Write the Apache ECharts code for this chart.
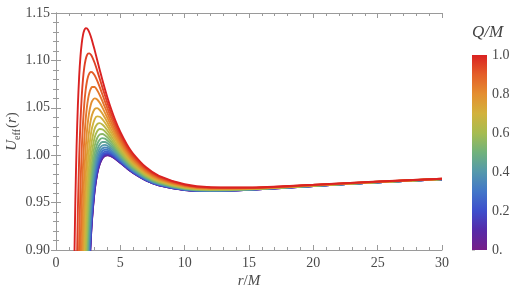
<!DOCTYPE html>
<html>
<head>
<meta charset="utf-8">
<script src="https://cdn.jsdelivr.net/npm/echarts@6/dist/echarts.min.js"></script>
<style>
html,body{margin:0;padding:0;background:#fff;}
#chart{width:523px;height:296px;}
</style>
</head>
<body>
<div id="chart"></div>
<script>
// radial positions r/M shared by all curves
const rGrid = [1.4,1.5,1.6,1.7,1.8,1.9,2.0,2.1,2.2,2.3,2.4,2.5,2.6,2.7,2.8,3.0,3.2,3.4,3.6,3.8,4.0,4.3,4.6,5.0,5.5,6,7,8,10,12,15,20,25,30];
// charge values Q/M of the curves
const qValues = [0,0.05,0.1,0.15,0.2,0.25,0.3,0.35,0.4,0.45,0.5,0.55,0.6,0.65,0.7,0.75,0.8,0.85,0.9,0.95,1.0];
// U_eff(r) read for each Q/M (null = not drawn)
const u000 = [null,null,null,null,null,null,null,null,null,null,null,null,0.88146,0.91010,0.93210,0.96225,0.98028,0.99080,0.99656,0.99927,1.00000,0.99887,0.99630,0.99197,0.98638,0.98131,0.97341,0.96825,0.96333,0.96225,0.96348,0.96747,0.97137,0.97464];
const u005 = [null,null,null,null,null,null,null,null,null,null,null,null,0.88217,0.91070,0.93262,0.96265,0.98059,0.99106,0.99678,0.99945,1.00016,0.99899,0.99640,0.99205,0.98645,0.98136,0.97344,0.96827,0.96334,0.96226,0.96349,0.96748,0.97137,0.97464];
const u010 = [null,null,null,null,null,null,null,null,null,null,null,null,0.88428,0.91250,0.93417,0.96385,0.98155,0.99184,0.99743,1.00000,1.00062,0.99937,0.99671,0.99230,0.98664,0.98151,0.97355,0.96835,0.96339,0.96229,0.96351,0.96748,0.97138,0.97465];
const u015 = [null,null,null,null,null,null,null,null,null,null,null,null,0.88779,0.91550,0.93676,0.96585,0.98314,0.99314,0.99851,1.00091,1.00141,1.00000,0.99723,0.99271,0.98696,0.98177,0.97372,0.96847,0.96346,0.96234,0.96354,0.96750,0.97139,0.97465];
const u020 = [null,null,null,null,null,null,null,null,null,null,null,null,0.89269,0.91968,0.94038,0.96865,0.98537,0.99495,1.00002,1.00219,1.00250,1.00089,0.99796,0.99329,0.98741,0.98212,0.97396,0.96865,0.96357,0.96241,0.96358,0.96753,0.97140,0.97466];
const u025 = [null,null,null,null,null,null,null,null,null,null,null,null,0.89894,0.92502,0.94501,0.97222,0.98822,0.99728,1.00196,1.00382,1.00390,1.00202,0.99889,0.99403,0.98798,0.98258,0.97428,0.96888,0.96370,0.96250,0.96364,0.96756,0.97142,0.97468];
const u030 = [null,null,null,null,null,null,null,null,null,null,null,0.87365,0.90653,0.93152,0.95064,0.97658,0.99170,1.00012,1.00432,1.00582,1.00561,1.00340,1.00004,0.99494,0.98869,0.98315,0.97466,0.96915,0.96387,0.96261,0.96370,0.96759,0.97144,0.97469];
const u035 = [null,null,null,null,null,null,null,null,null,null,null,0.88418,0.91541,0.93913,0.95724,0.98170,0.99579,1.00346,1.00710,1.00818,1.00763,1.00504,1.00138,0.99601,0.98952,0.98381,0.97511,0.96948,0.96407,0.96274,0.96378,0.96764,0.97147,0.97471];
const u040 = [null,null,null,null,null,null,null,null,null,null,null,0.89618,0.92556,0.94784,0.96481,0.98758,1.00049,1.00731,1.01031,1.01089,1.00995,1.00692,1.00294,0.99725,0.99047,0.98457,0.97563,0.96986,0.96429,0.96289,0.96388,0.96769,0.97150,0.97473];
const u045 = [null,null,null,null,null,null,null,null,null,null,0.87318,0.90959,0.93692,0.95761,0.97332,0.99420,1.00579,1.01165,1.01393,1.01395,1.01257,1.00904,1.00469,0.99864,0.99156,0.98544,0.97622,0.97029,0.96455,0.96306,0.96398,0.96774,0.97154,0.97476];
const u050 = [null,null,null,null,null,null,null,null,null,null,0.89084,0.92434,0.94946,0.96842,0.98273,1.00154,1.01168,1.01648,1.01796,1.01737,1.01550,1.01142,1.00665,1.00020,0.99277,0.98640,0.97688,0.97076,0.96483,0.96325,0.96410,0.96781,0.97158,0.97479];
const u055 = [null,null,null,null,null,null,null,null,null,0.86896,0.90996,0.94037,0.96314,0.98023,0.99304,1.00960,1.01815,1.02180,1.02240,1.02113,1.01873,1.01403,1.00881,1.00192,0.99410,0.98747,0.97761,0.97129,0.96515,0.96346,0.96423,0.96788,0.97162,0.97482];
const u060 = [null,null,null,null,null,null,null,null,null,0.89377,0.93045,0.95763,0.97789,0.99300,1.00421,1.01835,1.02520,1.02758,1.02723,1.02523,1.02225,1.01689,1.01118,1.00380,0.99556,0.98864,0.97840,0.97187,0.96549,0.96369,0.96437,0.96795,0.97167,0.97485];
const u065 = [null,null,null,null,null,null,null,null,0.87596,0.91999,0.95222,0.97604,0.99368,1.00669,1.01620,1.02778,1.03280,1.03384,1.03246,1.02967,1.02606,1.01998,1.01374,1.00584,0.99715,0.98991,0.97927,0.97250,0.96587,0.96394,0.96453,0.96804,0.97172,0.97489];
const u070 = [null,null,null,null,null,null,null,0.85711,0.90959,0.94749,0.97519,0.99554,1.01045,1.02128,1.02900,1.03786,1.04094,1.04055,1.03809,1.03444,1.03017,1.02331,1.01650,1.00804,0.99886,0.99127,0.98020,0.97318,0.96627,0.96421,0.96469,0.96813,0.97178,0.97492];
const u075 = [null,null,null,null,null,null,0.83853,0.90039,0.94438,0.97616,0.99928,1.01607,1.02816,1.03672,1.04258,1.04859,1.04962,1.04771,1.04409,1.03955,1.03456,1.02688,1.01945,1.01040,1.00069,0.99274,0.98120,0.97390,0.96671,0.96450,0.96487,0.96823,0.97184,0.97497];
const u080 = [null,null,null,null,null,null,0.89443,0.94448,0.98020,1.00591,1.02440,1.03757,1.04677,1.05297,1.05690,1.05993,1.05882,1.05531,1.05047,1.04498,1.03923,1.03068,1.02261,1.01291,1.00265,0.99430,0.98227,0.97468,0.96717,0.96482,0.96506,0.96833,0.97191,0.97501];
const u085 = [null,null,null,null,null,0.89514,0.95033,0.98925,1.01695,1.03664,1.05047,1.05997,1.06622,1.07000,1.07193,1.07188,1.06852,1.06334,1.05722,1.05072,1.04418,1.03471,1.02595,1.01558,1.00472,0.99597,0.98340,0.97551,0.96767,0.96515,0.96527,0.96844,0.97198,0.97506];
const u090 = [null,null,null,0.82372,0.90816,0.96589,1.00623,1.03463,1.05453,1.06826,1.07744,1.08322,1.08646,1.08777,1.08764,1.08440,1.07872,1.07179,1.06433,1.05678,1.04940,1.03897,1.02948,1.01840,1.00692,0.99773,0.98461,0.97638,0.96819,0.96550,0.96548,0.96856,0.97205,0.97511];
const u095 = [null,null,0.86221,0.94219,0.99714,1.03544,1.06213,1.08052,1.09285,1.10071,1.10524,1.10728,1.10746,1.10625,1.10402,1.09748,1.08940,1.08065,1.07180,1.06315,1.05490,1.04345,1.03320,1.02137,1.00924,0.99959,0.98588,0.97731,0.96875,0.96587,0.96571,0.96868,0.97213,0.97516];
const u100 = [0.86488,0.94933,1.00972,1.05273,1.08305,1.10401,1.11803,1.12688,1.13184,1.13390,1.13380,1.13208,1.12917,1.12540,1.12101,1.11111,1.10053,1.08992,1.07961,1.06983,1.06066,1.04815,1.03711,1.02450,1.01168,1.00154,0.98721,0.97828,0.96933,0.96625,0.96595,0.96881,0.97221,0.97522];
const curves = [u000,u005,u010,u015,u020,u025,u030,u035,u040,u045,u050,u055,u060,u065,u070,u075,u080,u085,u090,u095,u100];
// axis tick values
const xTicks = [0,5,10,15,20,25,30];
const yTicks = [0.90,0.95,1.00,1.05,1.10,1.15];
const barTicks = [0,0.2,0.4,0.6,0.8,1.0];

// colour scale (style)
const stops = [[0,[118,30,136]],[0.1,[86,42,168]],[0.2,[62,78,204]],[0.3,[66,118,200]],[0.4,[84,152,172]],[0.5,[112,178,124]],[0.6,[166,188,80]],[0.7,[210,178,60]],[0.8,[228,142,48]],[0.9,[228,94,40]],[1.0,[218,34,34]]];
function colorAt(t){
  for(let i=0;i<stops.length-1;i++){
    const a=stops[i], b=stops[i+1];
    if(t<=b[0]+1e-9){
      const f=(t-a[0])/(b[0]-a[0]);
      const c=a[1].map((v,j)=>Math.round(v+(b[1][j]-v)*f));
      return 'rgb('+c.join(',')+')';
    }
  }
  return 'rgb('+stops[stops.length-1][1].join(',')+')';
}

const FONT = '"Liberation Serif","DejaVu Serif",serif';
const frameColor = '#9a9a9a';
const labelColor = '#4a4a4a';

const chart = echarts.init(document.getElementById('chart'), null, {renderer:'canvas'});

const series = curves.map((u,idx)=>({
  type:'line',
  xAxisIndex:0, yAxisIndex:0,
  data: rGrid.map((r,i)=>[r,u[i]]).filter(p=>p[1]!==null),
  showSymbol:false,
  smooth:0.25,
  clip:true,
  lineStyle:{width:1.9,color:colorAt(qValues[idx])},
  itemStyle:{color:colorAt(qValues[idx])},
  silent:true,
  z:2+idx
}));
series.push({type:'line',xAxisIndex:2,yAxisIndex:2,data:[],silent:true});

const xMin = xTicks[0], xMax = xTicks[xTicks.length-1], xInt = xTicks[1]-xTicks[0];
const yMin = yTicks[0], yMax = yTicks[yTicks.length-1], yInt = 0.05;

function frameAxis(extra){
  return Object.assign({
    type:'value',
    axisLine:{show:true,lineStyle:{color:frameColor,width:1}},
    axisTick:{show:true,inside:true,length:5,lineStyle:{color:frameColor}},
    minorTick:{show:true,splitNumber:5,length:3,lineStyle:{color:frameColor}},
    splitLine:{show:false},
    minorSplitLine:{show:false}
  },extra);
}

const option = {
  animation:false,
  backgroundColor:'#fff',
  grid:[
    {left:56,top:13,right:81,bottom:46,containLabel:false,outerBoundsMode:'none'},
    {left:472,top:55,width:15,height:195,containLabel:false,outerBoundsMode:'none'}
  ],
  xAxis:[
    frameAxis({gridIndex:0,position:'bottom',min:xMin,max:xMax,interval:xInt,
      axisLabel:{show:true,margin:6,fontFamily:FONT,fontSize:14,color:labelColor,formatter:v=>String(v)},
      name:'{i|r}{n|/}{i|M}',nameLocation:'middle',nameGap:24,nameMoveOverlap:false,
      nameTextStyle:{rich:{i:{fontFamily:FONT,fontStyle:'italic',fontSize:15,color:labelColor},n:{fontFamily:FONT,fontSize:15,color:labelColor}}}}),
    frameAxis({gridIndex:0,position:'top',min:xMin,max:xMax,interval:xInt,axisLabel:{show:false}}),
    {gridIndex:1,type:'value',show:false,min:0,max:1}
  ],
  yAxis:[
    frameAxis({gridIndex:0,position:'left',min:yMin,max:yMax,interval:yInt,
      axisLabel:{show:true,margin:6,fontFamily:FONT,fontSize:14,color:labelColor,formatter:v=>v.toFixed(2)},
      name:'{i|U}{s|eff}{n|(}{i|r}{n|)}',nameLocation:'middle',nameGap:34,nameRotate:90,nameMoveOverlap:false,
      nameTextStyle:{rich:{
        i:{fontFamily:FONT,fontStyle:'italic',fontSize:15,color:labelColor,lineHeight:20,verticalAlign:'middle'},
        s:{fontFamily:FONT,fontSize:10,color:labelColor,lineHeight:20,verticalAlign:'bottom',padding:[0,1,0,0]},
        n:{fontFamily:FONT,fontSize:15,color:labelColor,lineHeight:20,verticalAlign:'middle'}}}}),
    frameAxis({gridIndex:0,position:'right',min:yMin,max:yMax,interval:yInt,axisLabel:{show:false}}),
    {gridIndex:1,type:'value',position:'right',min:barTicks[0],max:barTicks[barTicks.length-1],interval:0.2,
      axisLine:{show:false},
      axisTick:{show:true,inside:false,length:3,lineStyle:{color:'#c8c8c8'}},
      minorTick:{show:true,splitNumber:2,length:3,lineStyle:{color:'#c8c8c8'}},
      splitLine:{show:false},
      axisLabel:{show:true,margin:5,fontFamily:FONT,fontSize:14,color:labelColor,
        formatter:v=>(v===0?'0.':v.toFixed(1))}}
  ],
  graphic:[
    {type:'rect',left:472,top:55,silent:true,z:1,
      shape:{width:15,height:195},
      style:{fill:new echarts.graphic.LinearGradient(0,1,0,0,stops.map(s=>({offset:s[0],color:'rgb('+s[1].join(',')+')'})))}},
    {type:'text',left:472,top:24,silent:true,
      style:{text:'Q/M',font:'italic 17px "Liberation Serif", serif',fill:'#444'}}
  ],
  series:series
};
chart.setOption(option);
</script>
</body>
</html>
